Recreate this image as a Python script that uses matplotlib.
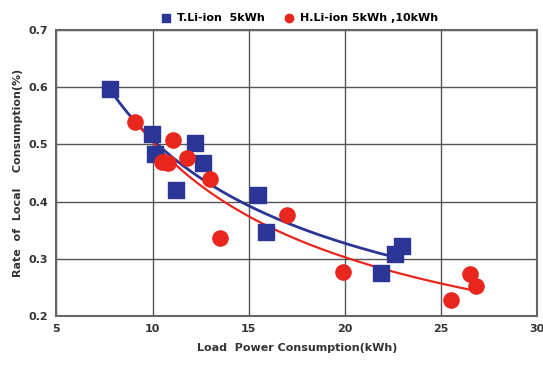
import matplotlib.pyplot as plt
import numpy as np

# T.Li-ion 5kWh
t_x = [7.8, 9.95, 10.1, 11.2, 12.2, 12.6, 15.5, 15.9, 21.9, 22.6, 23.0]
t_y = [0.597, 0.519, 0.484, 0.421, 0.502, 0.468, 0.411, 0.347, 0.275, 0.309, 0.323]

# H.Li-ion 5kWh ,10kWh
h_x = [9.1, 10.5, 10.8, 11.05, 11.8, 13.0, 13.5, 17.0, 19.9, 25.5, 26.5, 26.8]
h_y = [0.540, 0.470, 0.468, 0.508, 0.477, 0.440, 0.337, 0.376, 0.277, 0.228, 0.274, 0.252]


def power_fit(x, y):
    """Степенева лінія тренду y = a * x^b"""
    b, loga = np.polyfit(np.log(x), np.log(y), 1)
    xs = np.linspace(min(x), max(x), 200)
    return xs, np.exp(loga) * xs ** b


def main():
    fig = plt.figure(figsize=(5.43, 3.65), dpi=100)
    ax = fig.add_axes([0.104, 0.134, 0.885, 0.784])

    blue = '#2b3596'
    red = '#e8261e'

    xs, ys = power_fit(t_x, t_y)
    ax.plot(xs, ys, color=blue, lw=2, zorder=3)
    xs, ys = power_fit(h_x, h_y)
    ax.plot(xs, ys, color=red, lw=1.6, zorder=3)

    ax.scatter(t_x, t_y, marker='s', s=130, color=blue, zorder=4, label='T.Li-ion  5kWh')
    ax.scatter(h_x, h_y, marker='o', s=120, color=red, zorder=4, label='H.Li-ion 5kWh ,10kWh')

    ax.set_xlim(5, 30)
    ax.set_ylim(0.2, 0.7)
    ax.set_xticks([5, 10, 15, 20, 25, 30])
    ax.set_yticks([0.2, 0.3, 0.4, 0.5, 0.6, 0.7])
    ax.set_yticklabels(['0.2', '0.3', '0.4', '0.5', '0.6', '0.7'])
    ax.grid(True, color='#555555', lw=1)
    ax.set_axisbelow(True)
    for s in ax.spines.values():
        s.set_color('#666666')
        s.set_linewidth(1.5)
    ax.tick_params(length=0, labelsize=8, pad=6, colors='#333333')
    for lab in ax.get_xticklabels() + ax.get_yticklabels():
        lab.set_fontweight('bold')

    ax.set_xlabel('Load  Power Consumption(kWh)', fontsize=8, fontweight='bold', color='#333333', labelpad=6)
    ax.set_ylabel('Rate  of  Local    Consumption(%)', fontsize=8, fontweight='bold', color='#333333', labelpad=4)

    ax.legend(loc='lower center', bbox_to_anchor=(0.5, 1.0), ncol=2, frameon=False,
              fontsize=8, handletextpad=0.0, columnspacing=1.2, markerscale=0.55,
              prop={'weight': 'bold', 'size': 8}, borderaxespad=0.2)

    fig.savefig('out.png', dpi=100)


if __name__ == '__main__':
    main()
